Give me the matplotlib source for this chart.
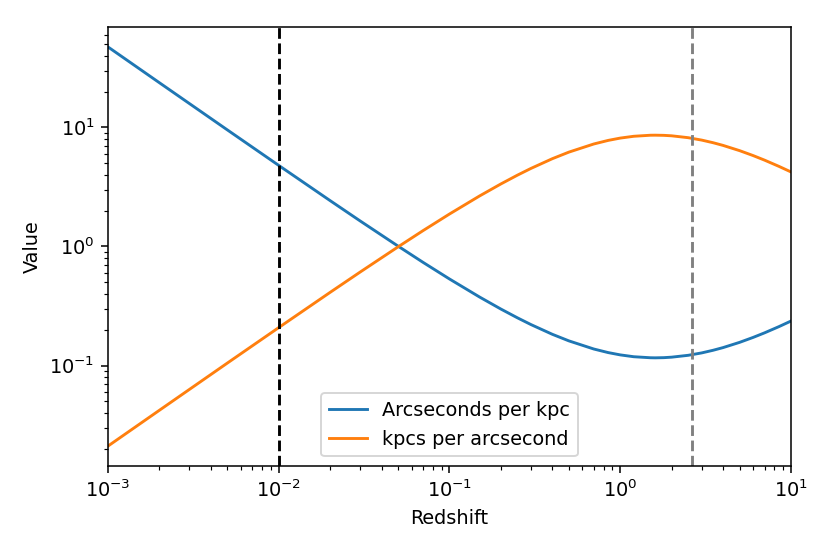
import matplotlib
matplotlib.use('Agg')
import matplotlib.pyplot as plt

# redshift grid and values
redshift = [0.001, 0.002, 0.005, 0.01, 0.02, 0.03, 0.05, 0.07, 0.1, 0.15, 0.2,
            0.25, 0.3, 0.4, 0.5, 0.7, 0.85, 1.0, 1.2, 1.5, 1.6, 1.8, 2.0, 2.5,
            3.0, 3.5, 4.0, 5.0, 6.0, 7.0, 8.5, 10.0]
kpc_per_arcsec = [0.02107, 0.04210, 0.1049, 0.2084, 0.4119, 0.6104, 0.9933,
                  1.359, 1.874, 2.657, 3.353, 3.974, 4.527, 5.461, 6.203,
                  7.262, 7.783, 8.139, 8.429, 8.600, 8.610, 8.582, 8.507,
                  8.203, 7.829, 7.441, 7.066, 6.385, 5.805, 5.314, 4.710,
                  4.229]
arcsec_per_kpc = [47.45, 23.75, 9.537, 4.798, 2.428, 1.638, 1.007, 0.7359,
                  0.5335, 0.3764, 0.2982, 0.2517, 0.2209, 0.1831, 0.1612,
                  0.1377, 0.1285, 0.1229, 0.1186, 0.1163, 0.1161, 0.1165,
                  0.1176, 0.1219, 0.1277, 0.1344, 0.1415, 0.1566, 0.1723,
                  0.1882, 0.2123, 0.2365]

z_low = 0.01
z_source = 2.63

fig = plt.figure(figsize=(6, 554 / 138.333), dpi=138.333)
ax = fig.add_axes([0.1301, 0.1588, 0.8229, 0.7925])

ax.plot(redshift, arcsec_per_kpc, label='Arcseconds per kpc')
ax.plot(redshift, kpc_per_arcsec, label='kpcs per arcsecond')
ax.axvline(z_low, color='black', linestyle='--')
ax.axvline(z_source, color='grey', linestyle='--')

ax.set_xscale('log')
ax.set_yscale('log')
ax.set_xlim(1e-3, 10)
ax.set_xlabel('Redshift')
ax.set_ylabel('Value')
ax.legend(loc='lower center')

fig.savefig('out.png', dpi=138.333)
